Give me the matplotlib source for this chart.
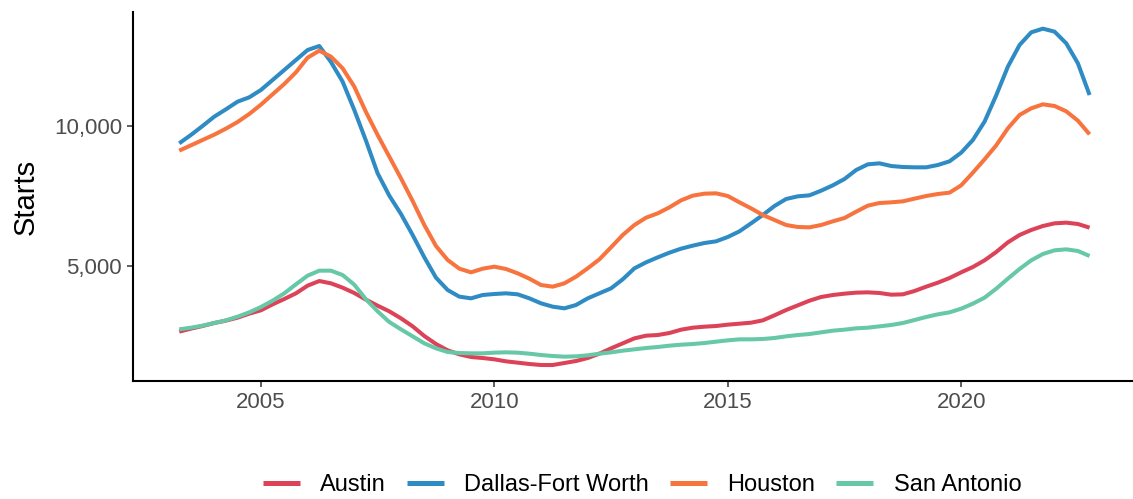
import matplotlib
matplotlib.use("Agg")
import matplotlib.pyplot as plt
import numpy as np

plt.rcParams['font.family'] = ['Liberation Sans', 'DejaVu Sans']

# Quarterly observations, 2003 Q2 .. 2022 Q4 (decimal years)
years = [2003.25 + 0.25 * i for i in range(79)]

austin = [2655, 2762, 2857, 2964, 3048, 3155, 3298, 3417, 3631, 3821, 4024, 4298, 4464,
          4381, 4226, 4036, 3798, 3583, 3381, 3131, 2845, 2500, 2214, 1988, 1845, 1750,
          1714, 1667, 1595, 1548, 1500, 1464, 1464, 1536, 1607, 1714, 1869,
          2059, 2238, 2416, 2512, 2535, 2607, 2726, 2797, 2833, 2857, 2905, 2940, 2976,
          3059, 3238, 3428, 3595, 3762, 3893, 3964, 4012, 4048, 4059, 4036, 3976, 3988,
          4107, 4262, 4405, 4571, 4774, 4964, 5202, 5500, 5845, 6107, 6286, 6428, 6524,
          6548, 6500, 6369]

dallas = [9381, 9679, 10000, 10333, 10595, 10869, 11024, 11286, 11643, 12000, 12357, 12714,
          12857, 12286, 11583, 10571, 9476, 8310, 7512, 6857, 6107, 5310, 4583, 4143, 3905,
          3845, 3964, 4000, 4024, 3988, 3845, 3667, 3548, 3488, 3607, 3845, 4024,
          4202, 4524, 4916, 5131, 5309, 5476, 5619, 5726, 5821, 5881, 6036, 6238, 6524,
          6821, 7143, 7393, 7488, 7524, 7690, 7881, 8107, 8428, 8631, 8667, 8571, 8536,
          8524, 8524, 8607, 8738, 9048, 9500, 10155, 11095, 12119, 12893, 13345, 13476,
          13369, 12952, 12238, 11107]

houston = [9119, 9309, 9500, 9690, 9905, 10143, 10429, 10762, 11131, 11500, 11917, 12440,
           12690, 12476, 12060, 11405, 10500, 9679, 8905, 8131, 7321, 6464, 5714, 5214,
           4905, 4774, 4905, 4976, 4893, 4738, 4548, 4321, 4262, 4381, 4619, 4917, 5238,
           5667, 6107, 6464, 6726, 6881, 7095, 7345, 7512, 7583, 7595, 7500, 7274, 7059,
           6821, 6643, 6464, 6393, 6381, 6464, 6595, 6714, 6940, 7155, 7250, 7274, 7309,
           7405, 7500, 7571, 7619, 7881, 8333, 8809, 9309, 9917, 10393, 10631, 10774,
           10714, 10524, 10190, 9702]

san_antonio = [2738, 2797, 2869, 2964, 3059, 3190, 3345, 3536, 3762, 4024, 4345, 4655, 4833,
               4833, 4678, 4333, 3810, 3381, 3000, 2738, 2488, 2238, 2059, 1928, 1893, 1881,
               1881, 1905, 1917, 1905, 1869, 1821, 1786, 1762, 1774, 1810, 1869,
               1916, 1976, 2024, 2071, 2107, 2155, 2190, 2214, 2250, 2298, 2345, 2381, 2381,
               2393, 2429, 2488, 2535, 2571, 2631, 2690, 2726, 2774, 2797, 2845, 2893, 2964,
               3071, 3179, 3274, 3345, 3476, 3655, 3869, 4190, 4548, 4893, 5202, 5429, 5560,
               5595, 5536, 5357]

series_names = ["Austin", "Dallas-Fort Worth", "Houston", "San Antonio"]
series_values = [austin, dallas, houston, san_antonio]
colors = ["#DC4258", "#2E8BC4", "#F7743F", "#66C8A6"]

x_ticks = [2005, 2010, 2015, 2020]
y_ticks = [5000, 10000]
y_tick_labels = ["5,000", "10,000"]

fig = plt.figure(figsize=(11.33, 4.99), dpi=100)
ax = fig.add_axes([133 / 1133, 118 / 499, 1000 / 1133, 369 / 499])

handles = []
for name, vals, c in zip(series_names, series_values, colors):
    h, = ax.plot(years, vals, color=c, lw=2.9, solid_capstyle='butt', label=name)
    handles.append(h)

ax.set_xlim(2002.26, 2023.68)
ax.set_ylim(893, 14071)
ax.set_xticks(x_ticks)
ax.set_xticklabels([str(t) for t in x_ticks])
ax.set_yticks(y_ticks)
ax.set_yticklabels(y_tick_labels)

for s in ["top", "right"]:
    ax.spines[s].set_visible(False)
for s in ["left", "bottom"]:
    ax.spines[s].set_linewidth(1.5)
    ax.spines[s].set_color("black")

ax.tick_params(axis="both", length=4, width=1.1, color="#333333",
               labelsize=16, labelcolor="#4D4D4D", pad=4)
ax.set_ylabel("Starts", fontsize=21, color="black", labelpad=10)

leg = fig.legend(handles, series_names, loc="center", bbox_to_anchor=(642 / 1133, 1 - 485 / 499),
                 ncol=4, frameon=False, fontsize=17, handlelength=1.57, handletextpad=0.85,
                 columnspacing=0.9)
for line in leg.get_lines():
    line.set_linewidth(3.6)

fig.savefig("out.png", dpi=100)
